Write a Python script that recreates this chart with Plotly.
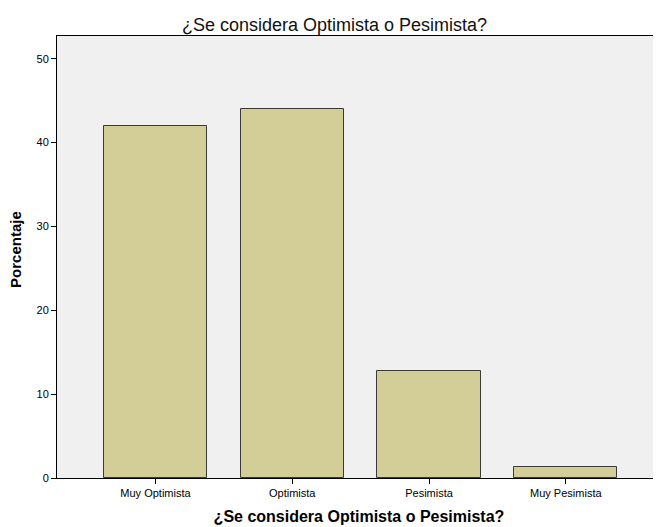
import plotly.graph_objects as go

categories = ["Muy Optimista", "Optimista", "Pesimista", "Muy Pesimista"]
percentages = [42.0, 44.0, 12.7, 1.3]
y_ticks = [0, 10, 20, 30, 40, 50]

W, H = 653, 519

fig = go.Figure(go.Bar(
    x=list(range(len(categories))),
    y=percentages,
    width=0.755,
    marker=dict(color="#D3CE97", line=dict(color="#3a3a3a", width=1)),
    hoverinfo="y",
))

fig.update_layout(
    width=W, height=H,
    margin=dict(l=49, r=0, t=28, b=49, autoexpand=False),
    paper_bgcolor="white",
    plot_bgcolor="#F0F0F0",
    font=dict(family="Liberation Sans, Arial, sans-serif", color="black"),
    title=dict(text="¿Se considera Optimista o Pesimista?", x=0.5, xref="container",
               xanchor="center", y=1 - 17/H, yanchor="middle",
               font=dict(size=18, color="#111111")),
    showlegend=False,
    bargap=0,
    annotations=[dict(
        text="<b>Porcentaje</b>", textangle=-90,
        xref="paper", yref="paper", x=0, y=0.516,
        xanchor="center", yanchor="middle", xshift=-41,
        showarrow=False, font=dict(size=15),
    )],
)
fig.update_xaxes(
    range=[-0.72, 3.696],
    tickmode="array",
    tickvals=list(range(len(categories))),
    ticktext=categories,
    ticks="outside", ticklen=5, tickcolor="black",
    showline=True, linecolor="black", linewidth=1, mirror=True,
    showgrid=False, zeroline=False,
    tickfont=dict(size=11),
    title=dict(text="<b>¿Se considera Optimista o Pesimista?</b>", font=dict(size=16), standoff=12),
)
fig.update_yaxes(
    range=[0, 52.7],
    tickmode="array",
    tickvals=y_ticks,
    ticks="outside", ticklen=5, tickcolor="black",
    showline=True, linecolor="black", linewidth=1, mirror=True,
    showgrid=False, zeroline=False,
    tickfont=dict(size=11),
)

fig.write_html("out.html")
